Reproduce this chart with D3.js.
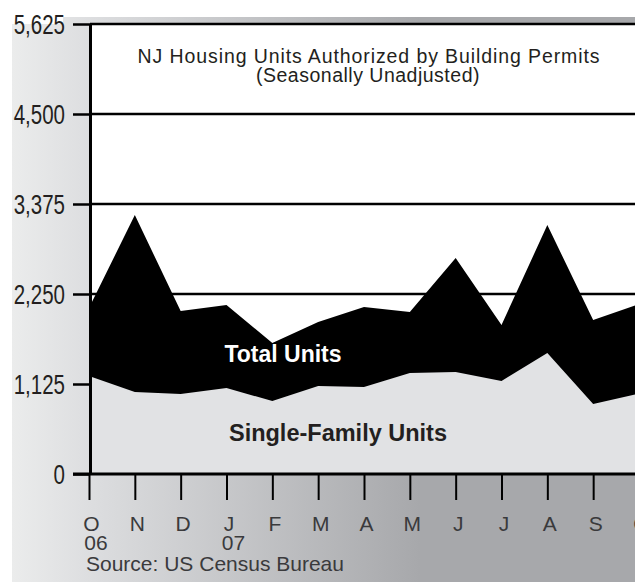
<!DOCTYPE html>
<meta charset="utf-8">
<style>
body { margin: 0; background: #fff; }
.ylab text { font-family: "Liberation Sans", Arial, sans-serif; font-size: 27px; fill: #231f20; }
.xlab text { font-family: "Liberation Sans", Arial, sans-serif; font-size: 21px; fill: #3a3a3c; }
</style>
<body>
<script src="https://d3js.org/d3.v7.min.js"></script>
<script>
// month ticks, Oct 06 .. Oct 07
var months = ["O", "N", "D", "J", "F", "M", "A", "M", "J", "J", "A", "S", "O"];
var years = ["06", "", "", "07", "", "", "", "", "", "", "", "", ""];
// units authorized
var totalUnits  = [2075, 3237, 2037, 2112, 1637, 1900, 2087, 2025, 2700, 1862, 3112, 1925, 2125];
var singleUnits = [1225, 1025, 1000, 1075, 912, 1100, 1087, 1262, 1275, 1162, 1512, 875, 1006];
var yTicks = [0, 1125, 2250, 3375, 4500, 5625];

var W = 635, H = 582;
var plotL = 90, plotR = 639, plotT = 24, plotB = 474;

var svg = d3.select("body").append("svg")
    .attr("width", W)
    .attr("height", H);

var defs = svg.append("defs");
var grad = defs.append("linearGradient")
    .attr("id", "bg")
    .attr("gradientUnits", "userSpaceOnUse")
    .attr("x1", 12).attr("x2", 420).attr("y1", 0).attr("y2", 0);
grad.append("stop").attr("offset", 0).attr("stop-color", "#ebecec");
grad.append("stop").attr("offset", 0.2).attr("stop-color", "#dcdddf");
grad.append("stop").attr("offset", 1).attr("stop-color", "#a7a8ab");

defs.append("clipPath").attr("id", "clipL")
  .append("rect").attr("x", 12 - plotL).attr("y", 0).attr("width", W).attr("height", H);

// background panel + top band
svg.append("rect").attr("x", 12).attr("y", 24).attr("width", W - 12).attr("height", H - 24).attr("fill", "url(#bg)");
svg.append("rect").attr("x", 63).attr("y", 17).attr("width", W - 63).attr("height", 8).attr("fill", "url(#bg)");

var x = d3.scalePoint().domain(d3.range(months.length)).range([plotL - 1, plotR]);
var y = d3.scaleLinear().domain([0, 5625]).range([plotB, plotT]);

// plot area
svg.append("rect").attr("x", plotL).attr("y", plotT).attr("width", W - plotL).attr("height", plotB - plotT).attr("fill", "#fff");

// gridlines
svg.append("g").selectAll("line").data(yTicks.slice(1)).join("line")
    .attr("x1", plotL).attr("x2", W)
    .attr("y1", function(d) { return y(d); })
    .attr("y2", function(d) { return y(d); })
    .attr("stroke", "#000")
    .attr("stroke-width", 2.7);

// areas
var area = d3.area()
    .x(function(d, i) { return x(i); })
    .y0(y(0))
    .y1(function(d) { return y(d); });

svg.append("path").datum(totalUnits).attr("d", area).attr("fill", "#000");
svg.append("path").datum(singleUnits).attr("d", area).attr("fill", "#e1e2e4");

// y axis
var yAxis = svg.append("g")
    .attr("class", "ylab")
    .attr("transform", "translate(" + plotL + ",0)")
    .attr("clip-path", "url(#clipL)")
    .call(d3.axisLeft(y).tickValues(yTicks).tickSize(17).tickSizeOuter(0).tickPadding(8).tickFormat(d3.format(",")));
yAxis.select(".domain").attr("stroke", "#000").attr("stroke-width", 3);
yAxis.selectAll(".tick line").attr("stroke", "#000").attr("stroke-width", 2.5);
yAxis.selectAll(".tick text").attr("font-size", null).attr("font-family", null).attr("dy", "0.36em")
    .each(function() {
      // condensed look: squeeze glyphs horizontally
      var len = this.getComputedTextLength();
      d3.select(this).attr("textLength", len * 0.76).attr("lengthAdjust", "spacingAndGlyphs");
    });

// x axis
var xAxis = svg.append("g")
    .attr("class", "xlab")
    .attr("transform", "translate(0," + plotB + ")")
    .call(d3.axisBottom(x).tickSize(26).tickSizeOuter(0).tickFormat(function(i) { return months[i]; }));
xAxis.select(".domain").attr("d", "M" + (plotL - 17) + ",0H" + W).attr("stroke", "#000").attr("stroke-width", 3.2);
xAxis.selectAll(".tick line").attr("stroke", "#000").attr("stroke-width", 2);
xAxis.selectAll(".tick text").attr("font-size", null).attr("font-family", null)
    .attr("y", 57).attr("dy", 0).attr("dx", 2);

// year labels under months
svg.append("g").attr("class", "xlab").selectAll("text").data(years).join("text")
    .attr("x", function(d, i) { return x(i) + 7; })
    .attr("y", 550)
    .attr("text-anchor", "middle")
    .text(function(d) { return d; });

svg.append("text")
    .attr("x", 86).attr("y", 571)
    .style("font-family", "'Liberation Sans', Arial, sans-serif")
    .style("font-size", "21px")
    .attr("fill", "#3a3a3c")
    .text("Source: US Census Bureau");

// title
var title = svg.append("text")
    .attr("text-anchor", "middle")
    .style("font-family", "'Liberation Sans', Arial, sans-serif")
    .style("font-size", "19.5px")
    .attr("fill", "#231f20");
title.append("tspan").attr("x", 369).attr("y", 63).style("letter-spacing", "0.9px")
    .text("NJ Housing Units Authorized by Building Permits");
title.append("tspan").attr("x", 368).attr("y", 82).style("letter-spacing", "0.5px")
    .text("(Seasonally Unadjusted)");

// series labels
svg.append("text")
    .attr("x", 283).attr("y", 362)
    .attr("text-anchor", "middle")
    .style("font-family", "'Liberation Sans', Arial, sans-serif")
    .style("font-size", "23px").style("font-weight", "bold")
    .attr("fill", "#fff")
    .text("Total Units");
svg.append("text")
    .attr("x", 338).attr("y", 441)
    .attr("text-anchor", "middle")
    .style("font-family", "'Liberation Sans', Arial, sans-serif")
    .style("font-size", "23.5px").style("font-weight", "bold")
    .attr("fill", "#231f20")
    .text("Single-Family Units");
</script>
</body>
